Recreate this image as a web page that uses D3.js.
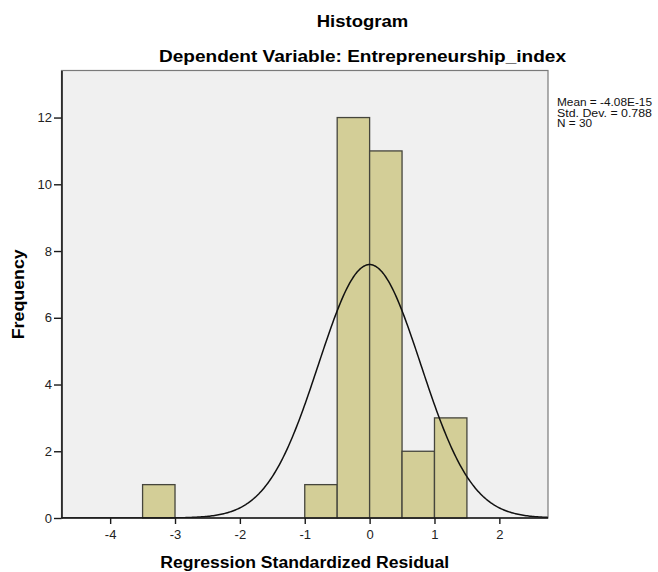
<!DOCTYPE html>
<html>
<head>
<meta charset="utf-8">
<script src="https://cdn.jsdelivr.net/npm/d3@7"></script>
<style>
  html, body { margin: 0; padding: 0; background: #ffffff; }
  svg { display: block; font-family: Arial, "Liberation Sans", sans-serif; }
</style>
</head>
<body>
<svg id="chart" width="658" height="572"></svg>
<script>
// ---- data ----
const binStarts = [-3.5, -1.0, -0.5, 0.0, 0.5, 1.0];
const binEnds   = [-3.0, -0.5,  0.0, 0.5, 1.0, 1.5];
const frequencies = [1, 1, 12, 11, 2, 3];
const xTickValues = [-4, -3, -2, -1, 0, 1, 2];
const yTickValues = [0, 2, 4, 6, 8, 10, 12];
const statLabels = ["Mean = -4.08E-15", "Std. Dev. = 0.788", "N = 30"];
const statMean = -4.08e-15;
const statSd = 0.788;
const statN = 30;
const binWidth = 0.5;
const titleText = "Histogram";
const subtitleText = "Dependent Variable: Entrepreneurship_index";
const xLabel = "Regression Standardized Residual";
const yLabel = "Frequency";

// ---- layout ----
const svg = d3.select("#chart");
const plot = { left: 61.5, right: 548, top: 70.5, bottom: 518 };

const x = d3.scaleLinear().domain([-4.75, 2.75]).range([plot.left, plot.right]);
const y = d3.scaleLinear().domain([0, 13.41]).range([plot.bottom, plot.top]);

// plot background
svg.append("rect")
  .attr("x", plot.left).attr("y", plot.top)
  .attr("width", plot.right - plot.left).attr("height", plot.bottom - plot.top)
  .attr("fill", "#f0f0f0")
  .attr("stroke", "#7a7a7a").attr("stroke-width", 1.2);

svg.append("clipPath").attr("id", "clip")
  .append("rect")
  .attr("x", plot.left).attr("y", plot.top)
  .attr("width", plot.right - plot.left).attr("height", plot.bottom - plot.top);

// bars
const bins = frequencies.map((f, i) => ({ x0: binStarts[i], x1: binEnds[i], f }));
svg.append("g").selectAll("rect").data(bins).join("rect")
  .attr("x", d => x(d.x0))
  .attr("y", d => y(d.f))
  .attr("width", d => x(d.x1) - x(d.x0))
  .attr("height", d => y(0) - y(d.f))
  .attr("fill", "#d3ce97")
  .attr("stroke", "#45453c")
  .attr("stroke-width", 1.3);

// normal curve from stated stats
const curvePts = d3.range(x.domain()[0], x.domain()[1] + 0.001, 0.02).map(v => {
  const z = (v - statMean) / statSd;
  const dens = Math.exp(-0.5 * z * z) / (statSd * Math.sqrt(2 * Math.PI));
  return [v, statN * binWidth * dens];
});
svg.append("path")
  .datum(curvePts)
  .attr("clip-path", "url(#clip)")
  .attr("fill", "none")
  .attr("stroke", "#111")
  .attr("stroke-width", 1.5)
  .attr("d", d3.line().x(d => x(d[0])).y(d => y(d[1])));

// axes
const fmt = d => String(d);
const xAxis = svg.append("g")
  .attr("transform", `translate(0,${plot.bottom})`)
  .call(d3.axisBottom(x).tickValues(xTickValues).tickFormat(fmt).tickSize(6).tickPadding(6).tickSizeOuter(0));
const yAxis = svg.append("g")
  .attr("transform", `translate(${plot.left},0)`)
  .call(d3.axisLeft(y).tickValues(yTickValues).tickFormat(fmt).tickSize(7.5).tickPadding(2).tickSizeOuter(0));

[xAxis, yAxis].forEach(g => {
  g.select(".domain").attr("stroke", "#1a1a1a").attr("stroke-width", 1.6);
  g.selectAll(".tick line").attr("stroke", "#1a1a1a").attr("stroke-width", 1.4);
  g.selectAll(".tick text").attr("fill", "#222").style("font-size", "13px")
    .style("font-family", "Arial, 'Liberation Sans', sans-serif");
});
xAxis.select(".domain").attr("d", `M${plot.left},0H${plot.right}`);

// titles
svg.append("text").attr("x", 362.5).attr("y", 27)
  .attr("text-anchor", "middle").attr("font-weight", "bold").attr("font-size", 17)
  .attr("textLength", 91.5).attr("lengthAdjust", "spacingAndGlyphs")
  .text(titleText);
svg.append("text").attr("x", 362.5).attr("y", 62)
  .attr("text-anchor", "middle").attr("font-weight", "bold").attr("font-size", 17)
  .attr("textLength", 407).attr("lengthAdjust", "spacingAndGlyphs")
  .text(subtitleText);

// axis labels
svg.append("text").attr("x", (plot.left + plot.right) / 2).attr("y", 567.5)
  .attr("text-anchor", "middle").attr("font-weight", "bold").attr("font-size", 16)
  .attr("textLength", 289).attr("lengthAdjust", "spacingAndGlyphs")
  .text(xLabel);
svg.append("text")
  .attr("transform", `translate(23.5,${(plot.top + plot.bottom) / 2}) rotate(-90)`)
  .attr("text-anchor", "middle").attr("font-weight", "bold").attr("font-size", 16)
  .attr("textLength", 90).attr("lengthAdjust", "spacingAndGlyphs")
  .text(yLabel);

// stats box
const statWidths = [95, 95, 35];
svg.append("g").selectAll("text").data(statLabels).join("text")
  .attr("x", 557)
  .attr("y", (d, i) => 106 + i * 10.5)
  .attr("font-size", 10)
  .attr("fill", "#111")
  .attr("textLength", (d, i) => statWidths[i])
  .attr("lengthAdjust", "spacingAndGlyphs")
  .text(d => d);
</script>
</body>
</html>
